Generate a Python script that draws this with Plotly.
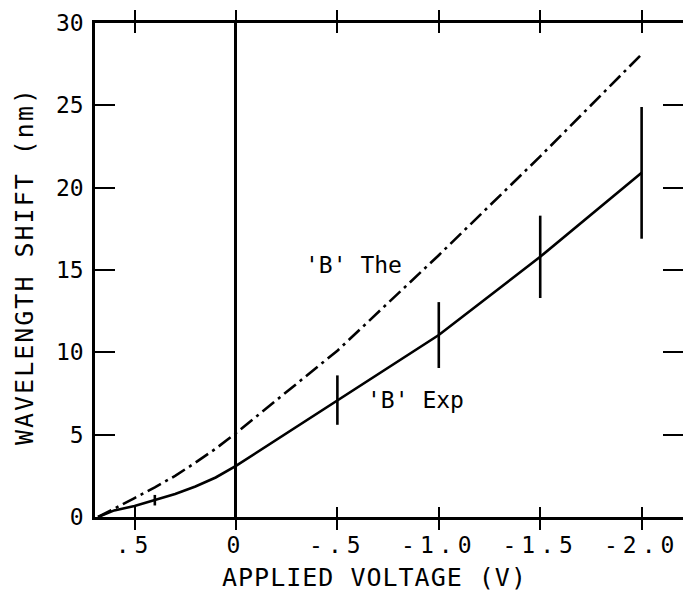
import plotly.graph_objects as go

# Applied voltage (V) and measured wavelength shift (nm), sample B
exp_voltage = [0.68, 0.6, 0.5, 0.4, 0.3, 0.2, 0.1, 0.0, -0.5, -1.0, -1.5, -2.0]
exp_shift = [0.0, 0.4, 0.67, 1.02, 1.4, 1.85, 2.4, 3.1, 7.1, 11.05, 15.8, 20.9]
exp_error = [0, 0, 0, 0.32, 0, 0, 0, 0, 1.5, 2.0, 2.5, 4.0]

# Theoretical wavelength shift (nm), sample B
the_voltage = [0.68, 0.6, 0.5, 0.4, 0.3, 0.2, 0.1, 0.0, -0.5, -1.0, -1.5, -2.0]
the_shift = [0.0, 0.5, 1.15, 1.8, 2.5, 3.3, 4.15, 5.1, 10.1, 15.9, 21.9, 28.1]

x_tickvals = [0.5, 0.0, -0.5, -1.0, -1.5, -2.0]
x_ticktext = [".5", "0", "-.5", "-1.0", "-1.5", "-2.0"]
y_tickvals = [0, 5, 10, 15, 20, 25, 30]
y_right_tickvals = [5, 10, 15, 20, 25]

FONT = "DejaVu Sans Mono"
INK = "black"
LW = 2.6
X_RANGE = [0.695, -2.204]
Y_RANGE = [0, 30]


def spaced(text, px):
    return f'<span style="letter-spacing:{px}px">{text}</span>'


fig = go.Figure()

# theory curve sits on the right-hand scale (same range as the left one)
fig.add_trace(go.Scatter(
    x=the_voltage, y=the_shift, mode="lines", yaxis="y2",
    line=dict(color=INK, width=LW, dash="15px,5px,3px,5px"),
    showlegend=False, hoverinfo="skip",
))

fig.add_trace(go.Scatter(
    x=exp_voltage, y=exp_shift, mode="lines",
    line=dict(color=INK, width=LW),
    error_y=dict(type="data", array=exp_error, visible=True,
                 color=INK, thickness=LW, width=0),
    showlegend=False, hoverinfo="skip",
))

fig.add_annotation(x=-0.577, y=15.3, xref="x", yref="y",
                   text="'B' The", showarrow=False,
                   font=dict(family=FONT, size=23, color=INK))
fig.add_annotation(x=-0.883, y=7.1, xref="x", yref="y",
                   text="'B' Exp", showarrow=False,
                   font=dict(family=FONT, size=23, color=INK))

# axis titles
fig.add_annotation(x=0.476, y=-0.123, xref="paper", yref="paper",
                   text=spaced("APPLIED VOLTAGE (V)", 1), showarrow=False,
                   xanchor="center", yanchor="middle",
                   font=dict(family=FONT, size=25, color=INK))
fig.add_annotation(x=-0.1207, y=0.508, xref="paper", yref="paper",
                   text=spaced("WAVELENGTH SHIFT (nm)", 2), showarrow=False,
                   textangle=-90, xanchor="center", yanchor="middle",
                   font=dict(family=FONT, size=25, color=INK))

fig.update_layout(
    width=683, height=595,
    margin=dict(l=95, r=0, t=23, b=78),
    paper_bgcolor="white", plot_bgcolor="white",
    font=dict(family=FONT, color=INK),
    xaxis=dict(
        range=X_RANGE,
        tickvals=x_tickvals,
        ticktext=[spaced(t, 5) for t in x_ticktext],
        ticks="inside", ticklen=10, tickwidth=2, tickcolor=INK,
        ticklabelstandoff=6,
        tickfont=dict(family=FONT, size=23, color=INK),
        showline=True, linecolor=INK, linewidth=2.5, mirror="allticks",
        showgrid=False,
        zeroline=True, zerolinecolor=INK, zerolinewidth=LW,
    ),
    yaxis=dict(
        range=Y_RANGE,
        tickvals=y_tickvals,
        ticks="inside", ticklen=20, tickwidth=2, tickcolor=INK,
        ticklabelstandoff=4,
        tickfont=dict(family=FONT, size=23, color=INK),
        showline=True, linecolor=INK, linewidth=2.5, mirror=False,
        showgrid=False, zeroline=False,
    ),
    yaxis2=dict(
        range=Y_RANGE, overlaying="y", side="right", anchor="x",
        tickvals=y_right_tickvals,
        ticks="inside", ticklen=20, tickwidth=2, tickcolor=INK,
        showticklabels=False, showline=False, showgrid=False, zeroline=False,
    ),
)

fig.write_html("out.html")
